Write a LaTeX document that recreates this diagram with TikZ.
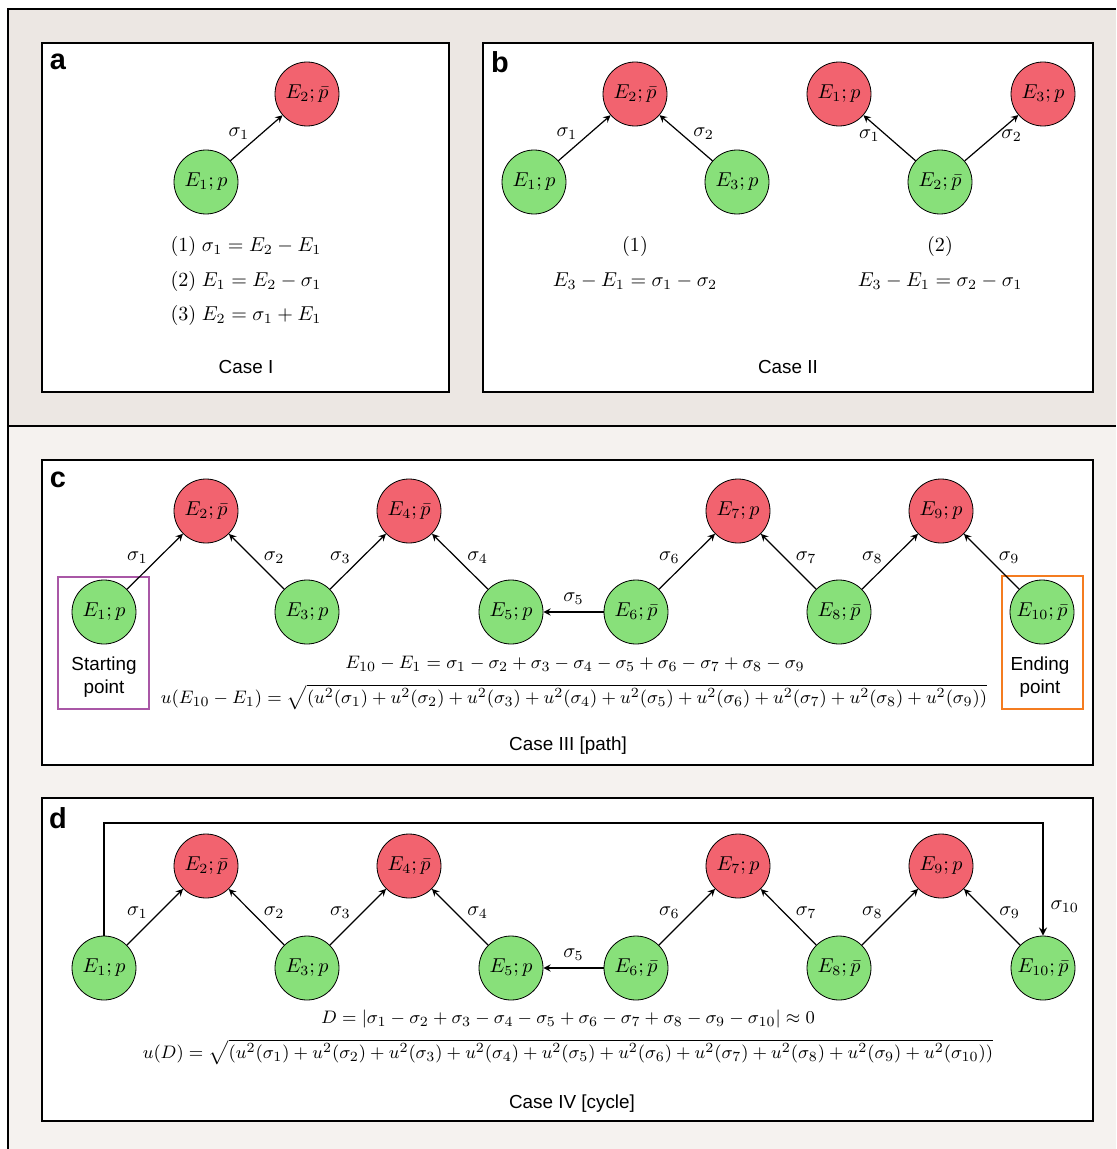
\documentclass[tikz,border=0pt]{standalone}
\usepackage{fontspec}
\setsansfont{Liberation Sans}
\usepackage{tikz}
\usetikzlibrary{automata, positioning, arrows}

\definecolor{bandtop}{HTML}{ECE7E3}
\definecolor{bandlow}{HTML}{F5F2EF}
\definecolor{hired}{HTML}{F2636F}
\definecolor{logreen}{HTML}{88E07A}
\definecolor{startcol}{HTML}{A957A6}
\definecolor{endcol}{HTML}{F47C20}

\begin{document}
\begin{tikzpicture}[x=0.0175cm, y=-0.0175cm, >=stealth, semithick,
    font=\fontsize{9.7}{11.6}\selectfont,
    every state/.style={draw, thin, minimum size=1.12cm, inner sep=0pt},
    hi/.style={state, fill=hired},
    lo/.style={state, fill=logreen},
    panel/.style={draw, line width=0.8pt, fill=white},
    tag/.style={font=\sffamily\bfseries\Large},
    caption/.style={font=\sffamily\fontsize{9.4}{11.4}\selectfont},
    longeq/.style={font=\fontsize{9.3}{11}\selectfont},
    sl/.style={left, yshift=0.07cm},
    sr/.style={right, yshift=0.07cm}]
                \useasboundingbox (0,0) rectangle (1116,1149);
                \fill[bandtop] (8,9) rectangle (1116,426);
                \fill[bandlow] (8,426) rectangle (1116,1149);
                \draw[line width=0.8pt] (1116,9) -- (8,9) -- (8,1149);
                \draw[line width=0.8pt] (8,426) -- (1116,426);

                % panel a
                \draw[panel] (42,43) rectangle (449,392);
                \node[tag] (la) at (58,62) {a};
                \node[lo] (a1) at (206, 182) {$E_1;p$};
                \node[hi] (a2) at (307, 94) {$E_2;\bar{p}$};
                \draw[->] (a1) -- node[sl] {$\sigma_1$} (a2);
                \node (ae1) at (246, 246) {$(1)\;\sigma_1 = E_2 - E_1$};
                \node (ae2) at (246, 281) {$(2)\;E_1 = E_2 - \sigma_1$};
                \node (ae3) at (246, 315) {$(3)\;E_2 = \sigma_1 + E_1$};
                \node[caption] (ca) at (246, 367) {Case I};

                % panel b
                \draw[panel] (483,43) rectangle (1093,392);
                \node[tag] (lb) at (500,62) {b};
                \node[lo] (b1) at (534, 182) {$E_1;p$};
                \node[hi] (b2) at (635, 94) {$E_2;\bar{p}$};
                \node[lo] (b3) at (737, 182) {$E_3;p$};
                \draw[->] (b1) -- node[sl] {$\sigma_1$} (b2);
                \draw[->] (b3) -- node[sr] {$\sigma_2$} (b2);
                \node[hi] (bb1) at (839, 94) {$E_1;p$};
                \node[lo] (bb2) at (940, 182) {$E_2;\bar{p}$};
                \node[hi] (bb3) at (1043, 94) {$E_3;p$};
                \draw[->] (bb2) -- node[left, pos=0.55] {$\sigma_1$} (bb1);
                \draw[->] (bb2) -- node[right, pos=0.55] {$\sigma_2$} (bb3);
                \node (be1) at (635, 246) {$(1)$};
                \node (be2) at (635, 281) {$E_3 - E_1 = \sigma_1 - \sigma_2$};
                \node (bbe1) at (940, 246) {$(2)$};
                \node (bbe2) at (940, 281) {$E_3 - E_1 = \sigma_2 - \sigma_1$};
                \node[caption] (cb) at (788, 367) {Case II};

                % panel c
                \draw[panel] (42,460) rectangle (1093,765);
                \node[tag] (lc) at (58,480) {c};
                \draw[startcol, line width=1pt] (58,577) rectangle (149,709);
                \draw[endcol, line width=1pt] (1002,576) rectangle (1083,709);
                \node[lo] (c1) at (104, 612) {$E_1;p$};
                \node[hi] (c2) at (206, 511) {$E_2;\bar{p}$};
                \node[lo] (c3) at (307, 612) {$E_3;p$};
                \node[hi] (c4) at (409, 511) {$E_4;\bar{p}$};
                \node[lo] (c5) at (511, 612) {$E_5;p$};
                \node[lo] (c6) at (636, 612) {$E_6;\bar{p}$};
                \node[hi] (c7) at (738, 511) {$E_7;p$};
                \node[lo] (c8) at (839, 612) {$E_8;\bar{p}$};
                \node[hi] (c9) at (941, 511) {$E_9;p$};
                \node[lo] (c10) at (1042, 612) {$E_{10};\bar{p}$};
                \draw[->] (c1) -- node[sl] {$\sigma_1$} (c2);
                \draw[->] (c3) -- node[sr] {$\sigma_2$} (c2);
                \draw[->] (c3) -- node[sl] {$\sigma_3$} (c4);
                \draw[->] (c5) -- node[sr] {$\sigma_4$} (c4);
                \draw[->] (c6) -- node[above] {$\sigma_5$} (c5);
                \draw[->] (c6) -- node[sl] {$\sigma_6$} (c7);
                \draw[->] (c8) -- node[sr] {$\sigma_7$} (c7);
                \draw[->] (c8) -- node[sl] {$\sigma_8$} (c9);
                \draw[->] (c10) -- node[sr] {$\sigma_9$} (c9);
                \node[caption, align=center] (cs) at (104, 677) {Starting\\point};
                \node[caption, align=center] (ce) at (1040, 677) {Ending\\point};
                \node[longeq] (ce1) at (575, 664) {$E_{10} - E_1 = \sigma_1 - \sigma_2 + \sigma_3 - \sigma_4 - \sigma_5 + \sigma_6 - \sigma_7 + \sigma_8 - \sigma_9$};
                \node[longeq] (ce2) at (574, 697) {$u(E_{10} - E_1) = \sqrt{(u^2(\sigma_1) + u^2(\sigma_2) + u^2(\sigma_3) + u^2(\sigma_4) + u^2(\sigma_5) + u^2(\sigma_6) + u^2(\sigma_7) + u^2(\sigma_8) + u^2(\sigma_9))}$};
                \node[caption] (cc) at (568, 746) {Case III [path]};

                % panel d
                \draw[panel] (42,798) rectangle (1093,1121);
                \node[tag] (ld) at (58,818) {d};
                \node[lo] (d1) at (104, 968) {$E_1;p$};
                \node[hi] (d2) at (206, 866) {$E_2;\bar{p}$};
                \node[lo] (d3) at (307, 968) {$E_3;p$};
                \node[hi] (d4) at (409, 866) {$E_4;\bar{p}$};
                \node[lo] (d5) at (511, 968) {$E_5;p$};
                \node[lo] (d6) at (636, 968) {$E_6;\bar{p}$};
                \node[hi] (d7) at (738, 866) {$E_7;p$};
                \node[lo] (d8) at (839, 968) {$E_8;\bar{p}$};
                \node[hi] (d9) at (941, 866) {$E_9;p$};
                \node[lo] (d10) at (1043, 968) {$E_{10};\bar{p}$};
                \coordinate (dtop) at (570, 823);
                \draw[->] (d1) -- node[sl] {$\sigma_1$} (d2);
                \draw[->] (d3) -- node[sr] {$\sigma_2$} (d2);
                \draw[->] (d3) -- node[sl] {$\sigma_3$} (d4);
                \draw[->] (d5) -- node[sr] {$\sigma_4$} (d4);
                \draw[->] (d6) -- node[above] {$\sigma_5$} (d5);
                \draw[->] (d6) -- node[sl] {$\sigma_6$} (d7);
                \draw[->] (d8) -- node[sr] {$\sigma_7$} (d7);
                \draw[->] (d8) -- node[sl] {$\sigma_8$} (d9);
                \draw[->] (d10) -- node[sr] {$\sigma_9$} (d9);
                \draw[->, line width=0.8pt] (d1) |- (dtop) -| node[right, pos=0.87] {$\sigma_{10}$} (d10);
                \node[longeq] (de1) at (568, 1019) {$D = |\sigma_1 - \sigma_2 + \sigma_3 - \sigma_4 - \sigma_5 + \sigma_6 - \sigma_7 + \sigma_8 - \sigma_9 - \sigma_{10}| \approx 0$};
                \node[longeq] (de2) at (568, 1052) {$u(D) = \sqrt{(u^2(\sigma_1) + u^2(\sigma_2) + u^2(\sigma_3) + u^2(\sigma_4) + u^2(\sigma_5) + u^2(\sigma_6) + u^2(\sigma_7) + u^2(\sigma_8) + u^2(\sigma_9) + u^2(\sigma_{10}))}$};
                \node[caption] (cd) at (572, 1104) {Case IV [cycle]};
            \end{tikzpicture}
\end{document}
